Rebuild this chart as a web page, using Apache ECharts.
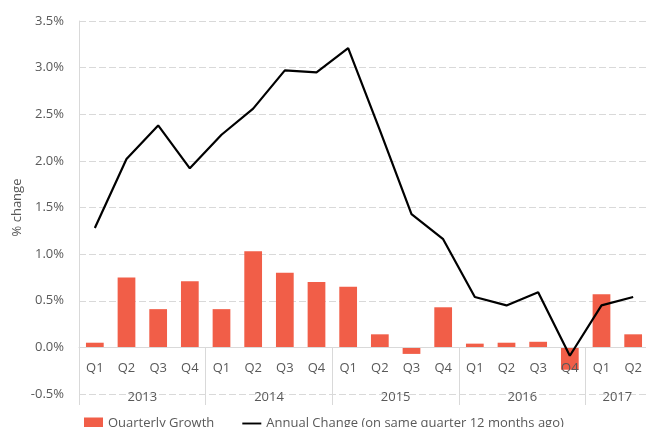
<!DOCTYPE html>
<html>
<head>
<meta charset="utf-8">
<script src="https://cdn.jsdelivr.net/npm/echarts@6/dist/echarts.min.js"></script>
<style>
html,body{margin:0;padding:0;background:#fff;}
#chart{width:646px;height:427px;}
</style>
</head>
<body>
<div id="chart"></div>
<script>
// ---- data ----
var quarters = ['Q1','Q2','Q3','Q4','Q1','Q2','Q3','Q4','Q1','Q2','Q3','Q4','Q1','Q2','Q3','Q4','Q1','Q2'];
var years = ['2013','2014','2015','2016','2017'];
var quartersPerYear = [4,4,4,4,2];
var quarterlyGrowth = [0.05,0.75,0.41,0.71,0.41,1.03,0.80,0.70,0.65,0.14,-0.07,0.43,0.04,0.05,0.06,-0.24,0.57,0.14];
var annualChange = [1.28,2.02,2.38,1.92,2.28,2.56,2.97,2.95,3.21,2.33,1.43,1.16,0.54,0.45,0.59,-0.09,0.45,0.54];
var yTicks = [-0.5,0,0.5,1.0,1.5,2.0,2.5,3.0,3.5];
var seriesNames = ['Quarterly Growth','Annual Change (on same quarter 12 months ago)'];

// derived year grouping
var yearBounds = [], yearCenters = [], centerToYear = {};
var acc = 0;
for (var i = 0; i < years.length; i++) {
  yearBounds.push(acc);
  var c = acc + quartersPerYear[i] / 2;
  yearCenters.push(c);
  centerToYear[c] = years[i];
  acc += quartersPerYear[i];
}

var FONT = 'Open Sans';
var TXT = '#595959';
var GRIDC = '#d9d9d9';
var GRID_H = 373;
var yMin = yTicks[0], yMax = yTicks[yTicks.length-1];
// distance of the zero line above the grid bottom (so the quarter axis sits at 0)
var zeroOffset = -GRID_H * (0 - yMin) / (yMax - yMin);

var chart = echarts.init(document.getElementById('chart'), null, {renderer:'canvas'});
var gridBox = {left:79, width:570, top:21, height:GRID_H, containLabel:false, outerBoundsMode:'none'};
chart.setOption({
  animation:false,
  backgroundColor:'#fff',
  textStyle:{fontFamily:FONT},
  grid:[Object.assign({}, gridBox), Object.assign({}, gridBox)],
  legend:{
    left:84, top:417, padding:0,
    itemWidth:19, itemHeight:12, itemGap:28,
    symbolKeepAspect:true,
    textStyle:{fontFamily:FONT, fontSize:13, color:TXT},
    data:[{name:seriesNames[0], icon:'rect'},{name:seriesNames[1], icon:'path://M0 0H20V2H0Z'}]
  },
  xAxis:[{
    type:'category', gridIndex:0, data:quarters, position:'bottom', offset:zeroOffset, z:3,
    axisLine:{show:true, onZero:false, lineStyle:{color:GRIDC, width:1}},
    axisTick:{show:false},
    axisLabel:{color:TXT, fontSize:13, fontFamily:FONT, margin:14, interval:0},
    splitLine:{show:false}
  },{
    type:'value', gridIndex:1, min:0, max:acc, position:'bottom', offset:11,
    axisLine:{show:false, onZero:false},
    axisTick:{show:true, inside:true, length:58, customValues:yearBounds, lineStyle:{color:GRIDC, width:1}},
    axisLabel:{show:true, inside:true, margin:1, customValues:yearCenters, color:TXT, fontSize:13, fontFamily:FONT,
      formatter:function(v){ return centerToYear[v] || ''; }},
    splitLine:{show:false}
  }],
  yAxis:[{
    type:'value', gridIndex:0, min:yMin, max:yMax, interval:0.5,
    name:'% change', nameLocation:'middle', nameGap:55, nameRotate:90, nameMoveOverlap:false,
    nameTextStyle:{color:TXT, fontSize:13, fontFamily:FONT},
    axisLine:{show:true, lineStyle:{color:GRIDC, width:1}},
    axisTick:{show:false},
    axisLabel:{color:TXT, fontSize:13, fontFamily:FONT, margin:15, formatter:function(v){return v.toFixed(1)+'%';}},
    splitLine:{show:true, lineStyle:{color:GRIDC, width:1, type:[7,3]}}
  },{
    type:'value', gridIndex:1, min:0, max:1, show:false
  }],
  series:[{
    name:seriesNames[0], type:'bar', xAxisIndex:0, yAxisIndex:0,
    data:quarterlyGrowth, barWidth:'56%',
    itemStyle:{color:'#f15e48'}
  },{
    name:seriesNames[1], type:'line', xAxisIndex:0, yAxisIndex:0,
    data:annualChange, symbol:'none', showSymbol:false,
    lineStyle:{color:'#000', width:2.2}, itemStyle:{color:'#000'}, z:5
  }]
});
</script>
</body>
</html>
